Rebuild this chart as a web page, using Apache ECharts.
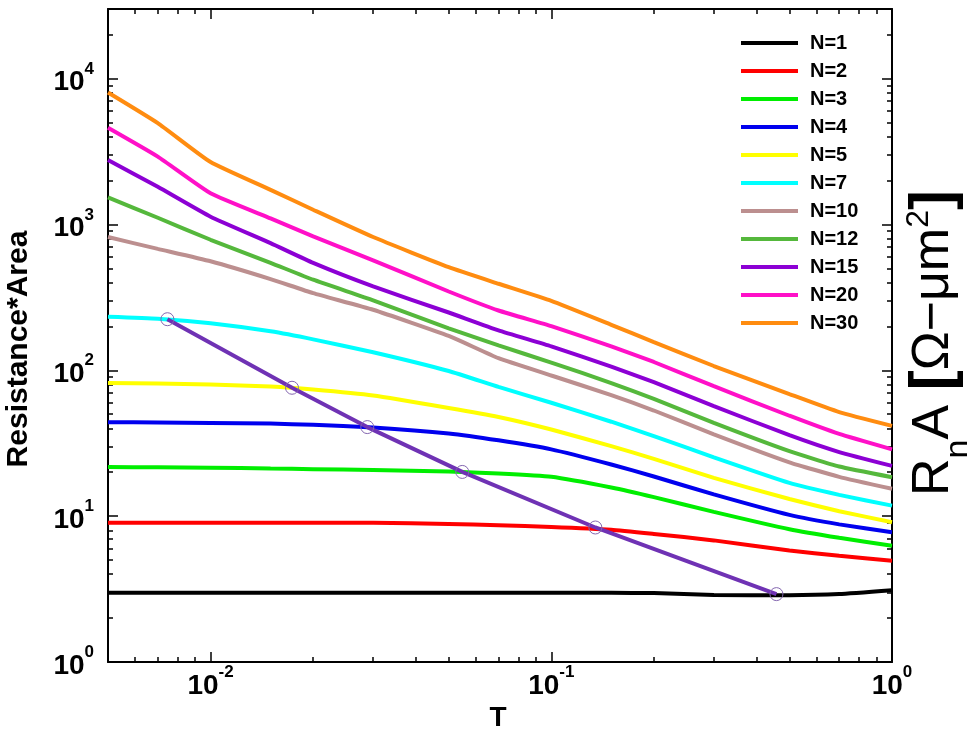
<!DOCTYPE html>
<html><head><meta charset="utf-8">
<script src="https://cdn.jsdelivr.net/npm/echarts@6/dist/echarts.min.js"></script>
<style>html,body{margin:0;padding:0;background:#fff}#c{width:967px;height:734px}</style>
</head><body><div id="c"></div>
<script>
// ---- data ----
const T   = [0.005, 0.007, 0.01, 0.015, 0.02, 0.03, 0.05, 0.07, 0.1, 0.15, 0.2, 0.3, 0.5, 0.7, 1.0];
const N1  = [2.98, 2.98, 2.98, 2.98, 2.98, 2.98, 2.98, 2.98, 2.98, 2.98, 2.97, 2.88, 2.87, 2.92, 3.1];
const N2  = [9.0, 9.0, 9.0, 9.0, 9.0, 9.0, 8.83, 8.66, 8.44, 8.07, 7.55, 6.82, 5.81, 5.35, 4.95];
const N3  = [21.7, 21.6, 21.5, 21.2, 21.0, 20.7, 20.2, 19.6, 18.6, 15.7, 13.5, 10.7, 8.13, 7.10, 6.27];
const N4  = [44.1, 43.9, 43.6, 43.1, 42.3, 40.6, 36.9, 33.1, 28.7, 22.6, 18.7, 14.1, 10.2, 8.78, 7.76];
const N5  = [81.9, 81.2, 79.9, 77.5, 73.9, 67.2, 55.2, 47.9, 39.3, 30.2, 24.7, 18.3, 13.1, 10.8, 9.09];
const N7  = [233, 226, 210, 185, 163, 133, 98.9, 76.9, 59.9, 44.4, 35.4, 25.3, 16.9, 14.0, 11.8];
const N10 = [820, 680, 559, 422, 338, 260, 172, 121, 92.1, 67.6, 53.0, 36.4, 23.4, 18.6, 15.4];
const N12 = [1534, 1111, 785, 546, 418, 302, 194, 148, 113, 81.8, 63.7, 43.6, 27.9, 21.9, 18.5];
const N15 = [2768, 1811, 1130, 745, 545, 376, 249, 188, 146, 106, 82.9, 56.8, 35.9, 27.5, 22.1];
const N20 = [4605, 2919, 1636, 1100, 829, 567, 347, 257, 201, 146, 114, 77.8, 48.8, 36.6, 28.7];
const N30 = [8035, 4956, 2678, 1726, 1262, 820, 509, 392, 299, 205, 156, 107, 68.7, 51.7, 41.6];
const seriesNames  = ['N=1','N=2','N=3','N=4','N=5','N=7','N=10','N=12','N=15','N=20','N=30'];
const seriesValues = [N1, N2, N3, N4, N5, N7, N10, N12, N15, N20, N30];
const seriesColors = ['#000000','#ff0000','#00ee00','#0000ee','#ffff00','#00ffff','#bc8f8f','#55b83c','#8c00d4','#ff10c8','#ff8c10'];
// crossing points (diagonal line with circles)
const diagT = [0.00747, 0.01734, 0.02884, 0.0548, 0.1347, 0.458];
const diagR = [224, 75.9, 40.8, 20.1, 8.36, 2.92];
// axis ranges and major tick exponents
const xMinT = 0.005, xMaxT = 1;
const yMinR = 1, yMaxR = 30000;
const xMajorExp = [-2, -1, 0];
const yMajorExp = [0, 1, 2, 3, 4];

// ---- build ----
const lg = Math.log10;
const FONT = "'Liberation Sans', Arial, Helvetica, sans-serif";
const xMin = lg(xMinT), xMax = lg(xMaxT), yMin = lg(yMinR), yMax = lg(yMaxR);
function minors(lo, hi) {
  const out = [];
  for (let n = Math.floor(lo) - 1; n <= Math.ceil(hi); n++) {
    for (let k = 2; k <= 9; k++) { const v = n + lg(k); if (v > lo + 1e-6 && v < hi - 1e-6) out.push(v); }
  }
  return out;
}
const xMinor = minors(xMin, xMax), yMinor = minors(yMin, yMax);
const pairs = (xs, ys) => xs.map((x, i) => [lg(x), lg(ys[i])]);

const labelRich = {
  b: {fontSize: 28, fontWeight: 'bold', fontFamily: FONT, color: '#000', lineHeight: 36, verticalAlign: 'bottom'},
  e: {fontSize: 17, fontWeight: 'bold', fontFamily: FONT, color: '#000', verticalAlign: 'top'}
};
const expFmt = v => '{b|10}{e|' + Math.round(v) + '}';

function mkAxis(pos, min, max, ticks, len, withLine, withLabel) {
  return {
    type: 'value', position: pos, min: min, max: max, splitLine: {show: false},
    axisLine: {show: withLine, onZero: false, lineStyle: {color: '#000', width: 2}},
    axisTick: {show: true, inside: true, length: len, customValues: ticks, lineStyle: {color: '#000', width: 1.5}},
    axisLabel: withLabel ? {show: true, customValues: ticks, formatter: expFmt, rich: labelRich, margin: withLabel} : {show: false},
    minorTick: {show: false}
  };
}

const series = seriesNames.map((name, i) => ({
  name: name, type: 'line', xAxisIndex: 0, yAxisIndex: 0,
  data: pairs(T, seriesValues[i]), showSymbol: false, symbol: 'none', smooth: 0.15,
  color: seriesColors[i], lineStyle: {width: 4, color: seriesColors[i]}, z: 2
}));
series.push({
  name: 'cross', type: 'line', xAxisIndex: 0, yAxisIndex: 0, data: pairs(diagT, diagR),
  symbol: 'circle', symbolSize: 13, showSymbol: true, z: 3,
  lineStyle: {width: 4, color: '#6f32b4'},
  itemStyle: {color: 'rgba(0,0,0,0)', borderColor: '#8466b0', borderWidth: 1}
});

const option = {
  backgroundColor: '#fff',
  animation: false,
  grid: {left: 108, right: 75, top: 9, bottom: 72, containLabel: false},
  xAxis: [
    mkAxis('bottom', xMin, xMax, xMajorExp, 10, true, 2),
    mkAxis('bottom', xMin, xMax, xMinor, 5, false, 0),
    mkAxis('top', xMin, xMax, xMajorExp, 10, true, 0),
    mkAxis('top', xMin, xMax, xMinor, 5, false, 0)
  ],
  yAxis: [
    mkAxis('left', yMin, yMax, yMajorExp, 10, true, 14),
    mkAxis('left', yMin, yMax, yMinor, 5, false, 0),
    mkAxis('right', yMin, yMax, yMajorExp, 10, true, 0),
    mkAxis('right', yMin, yMax, yMinor, 5, false, 0)
  ],
  legend: {
    data: seriesNames, orient: 'vertical', left: 736, top: 28,
    itemWidth: 57, itemHeight: 4, itemGap: 8, icon: 'rect',
    textStyle: {fontSize: 20, fontWeight: 'bold', fontFamily: FONT, color: '#000', lineHeight: 20, padding: [0, 0, 0, 7]}
  },
  graphic: [
    {type: 'text', x: 19, y: 349, rotation: Math.PI / 2, silent: true,
     style: {text: 'Resistance*Area', fontSize: 30, fontWeight: 'bold', fontFamily: FONT, fill: '#000', align: 'center', verticalAlign: 'middle'}},
    {type: 'text', x: 498, y: 718, silent: true,
     style: {text: 'T', fontSize: 28, fontWeight: 'bold', fontFamily: FONT, fill: '#000', align: 'center', verticalAlign: 'middle'}},
    {type: 'text', x: 934, y: 343, rotation: Math.PI / 2, silent: true,
     style: {
       text: '{a|R}{sub|n}{a|A} {br|[}{a|Ω−μm}{sup|2}{br|]}', align: 'center', verticalAlign: 'middle',
       fontSize: 52, fontFamily: FONT, fill: '#000',
       rich: {
         a: {fontSize: 52, fontFamily: FONT, fill: '#000', lineHeight: 68, verticalAlign: 'middle'},
         sub: {fontSize: 34, fontFamily: FONT, fill: '#000', verticalAlign: 'bottom', height: 18},
         sup: {fontSize: 32, fontFamily: FONT, fill: '#000', verticalAlign: 'top', height: 38},
         br: {fontSize: 60, fontWeight: 'bold', fontFamily: FONT, fill: '#000', verticalAlign: 'middle'}
       }
     }}
  ],
  series: series
};
const chart = echarts.init(document.getElementById('c'), null, {renderer: 'canvas'});
chart.setOption(option);
</script></body></html>
